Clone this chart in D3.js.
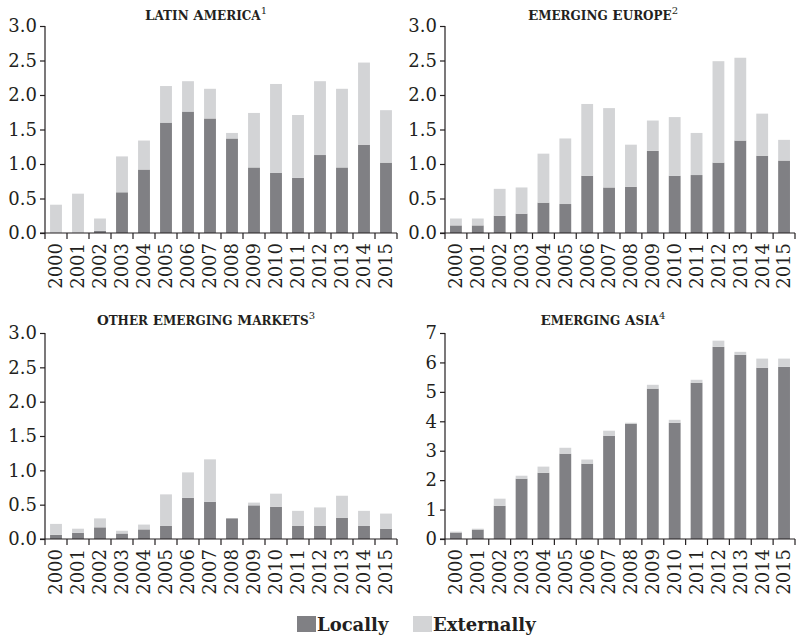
<!DOCTYPE html>
<html>
<head>
<meta charset="utf-8">
<script src="https://cdn.jsdelivr.net/npm/d3@7"></script>
<style>
  html, body { margin: 0; padding: 0; background: #fff; }
  svg { display: block; }
  text { font-family: "DejaVu Serif", "Liberation Serif", serif; fill: #231f20; }
</style>
</head>
<body>
<svg id="chart" width="796" height="637"></svg>
<script>
// Years on every panel
const years = ["2000","2001","2002","2003","2004","2005","2006","2007",
               "2008","2009","2010","2011","2012","2013","2014","2015"];

// Latin America
const latamLocal    = [0,0,0.03,0.59,0.92,1.60,1.76,1.66,1.37,0.95,0.87,0.80,1.13,0.95,1.28,1.02];
const latamExternal = [0.41,0.57,0.18,0.52,0.42,0.53,0.44,0.43,0.08,0.79,1.29,0.91,1.07,1.14,1.19,0.76];

// Emerging Europe
const europeLocal    = [0.11,0.11,0.25,0.28,0.44,0.42,0.83,0.66,0.67,1.19,0.83,0.84,1.02,1.34,1.12,1.05];
const europeExternal = [0.10,0.10,0.39,0.38,0.71,0.95,1.04,1.15,0.61,0.44,0.85,0.61,1.47,1.20,0.61,0.30];

// Other emerging markets
const otherLocal    = [0.06,0.09,0.17,0.08,0.14,0.19,0.60,0.54,0.30,0.49,0.47,0.19,0.19,0.31,0.19,0.15];
const otherExternal = [0.16,0.06,0.13,0.04,0.07,0.46,0.37,0.62,0,0.04,0.19,0.22,0.27,0.32,0.22,0.22];

// Emerging Asia
const asiaLocal    = [0.22,0.32,1.13,2.05,2.25,2.90,2.56,3.51,3.92,5.11,3.95,5.31,6.53,6.26,5.82,5.85];
const asiaExternal = [0.03,0.03,0.24,0.10,0.21,0.20,0.14,0.17,0.03,0.13,0.10,0.10,0.21,0.10,0.31,0.28];

// Y-axis tick values
const ticksShare = [0, 0.5, 1.0, 1.5, 2.0, 2.5, 3.0];
const ticksAsia  = [0, 1, 2, 3, 4, 5, 6, 7];

const seriesKeys  = ["Locally", "Externally"];
const seriesColor = { Locally: "#808084", Externally: "#d3d4d6" };

const panels = [
  { title: "LATIN AMERICA",          sup: "1", local: latamLocal,  external: latamExternal,  max: 3, ticks: ticksShare, fmt: d3.format(".1f"),
    left: 45,  right: 397, top: 26,  bottom: 233, titleX: 206, titleY: 20 },
  { title: "EMERGING EUROPE",        sup: "2", local: europeLocal, external: europeExternal, max: 3, ticks: ticksShare, fmt: d3.format(".1f"),
    left: 445, right: 795, top: 26,  bottom: 233, titleX: 603, titleY: 20 },
  { title: "OTHER EMERGING MARKETS", sup: "3", local: otherLocal,  external: otherExternal,  max: 3, ticks: ticksShare, fmt: d3.format(".1f"),
    left: 45,  right: 397, top: 333, bottom: 539, titleX: 206, titleY: 325 },
  { title: "EMERGING ASIA",          sup: "4", local: asiaLocal,   external: asiaExternal,   max: 7, ticks: ticksAsia,  fmt: d3.format("d"),
    left: 445, right: 795, top: 333, bottom: 539, titleX: 603, titleY: 325 }
];

const svg = d3.select("#chart");
const padInner = 0.46;

panels.forEach(p => {
  const rows = years.map((y, i) => ({ year: y, Locally: p.local[i], Externally: p.external[i] }));
  const stacked = d3.stack().keys(seriesKeys)(rows);

  const x = d3.scaleBand().domain(years).range([p.left, p.right])
    .paddingInner(padInner).paddingOuter(padInner / 2);
  const y = d3.scaleLinear().domain([0, p.max]).range([p.bottom, p.top]);

  const g = svg.append("g");

  // stacked bars
  g.selectAll("g.series").data(stacked).join("g")
    .attr("fill", d => seriesColor[d.key])
    .selectAll("rect").data(d => d).join("rect")
      .attr("x", d => x(d.data.year))
      .attr("width", x.bandwidth())
      .attr("y", d => y(d[1]))
      .attr("height", d => Math.max(0, y(d[0]) - y(d[1])));

  // y axis
  const yAxis = d3.axisLeft(y).tickValues(p.ticks).tickFormat(p.fmt).tickSize(5).tickPadding(3);
  const ga = g.append("g").attr("transform", `translate(${p.left},0)`).call(yAxis);
  ga.select(".domain").attr("d", `M0,${p.top}V${p.bottom}`).attr("stroke", "#231f20").attr("stroke-width", 1.2);
  ga.selectAll(".tick line").attr("stroke", "#231f20").attr("stroke-width", 1.2);
  ga.selectAll(".tick text").attr("font-family", "DejaVu Serif").attr("font-size", 18).attr("fill", "#231f20");

  // x axis: baseline, boundary ticks and rotated year labels
  const step = x.step();
  const edge0 = x(years[0]) - step * padInner / 2;
  g.append("line")
    .attr("x1", p.left - 5).attr("x2", p.right)
    .attr("y1", p.bottom).attr("y2", p.bottom)
    .attr("stroke", "#231f20").attr("stroke-width", 1.2);
  g.selectAll("line.bound").data(d3.range(years.length + 1)).join("line")
    .attr("class", "bound")
    .attr("x1", i => edge0 + i * step).attr("x2", i => edge0 + i * step)
    .attr("y1", p.bottom).attr("y2", p.bottom + 6)
    .attr("stroke", "#231f20").attr("stroke-width", 1.2);
  g.selectAll("text.year").data(years).join("text")
    .attr("class", "year")
    .attr("transform", d => `translate(${x(d) + x.bandwidth() / 2},${p.bottom + 10}) rotate(-90)`)
    .attr("text-anchor", "end")
    .attr("dy", "0.35em")
    .attr("font-size", 18)
    .text(d => d);

  // panel title: word initials slightly taller than the rest
  const t = g.append("text")
    .attr("x", p.titleX).attr("y", p.titleY)
    .attr("text-anchor", "middle")
    .attr("font-weight", "bold");
  p.title.split(" ").forEach((w, i) => {
    t.append("tspan").attr("font-size", 13.5).text((i ? " " : "") + w[0]);
    t.append("tspan").attr("font-size", 12).text(w.slice(1));
  });
  t.append("tspan").attr("font-size", 10).attr("font-weight", "normal").attr("dy", -6).text(p.sup);
});

// legend
const legend = svg.append("g");
const legendItems = [
  { key: "Locally",    x: 297 },
  { key: "Externally", x: 413 }
];
legend.selectAll("rect").data(legendItems).join("rect")
  .attr("x", d => d.x).attr("y", 616)
  .attr("width", 19).attr("height", 16)
  .attr("fill", d => seriesColor[d.key]);
legend.selectAll("text").data(legendItems).join("text")
  .attr("x", d => d.x + 20).attr("y", 631)
  .attr("font-size", 18).attr("font-weight", "bold")
  .text(d => d.key);
</script>
</body>
</html>
